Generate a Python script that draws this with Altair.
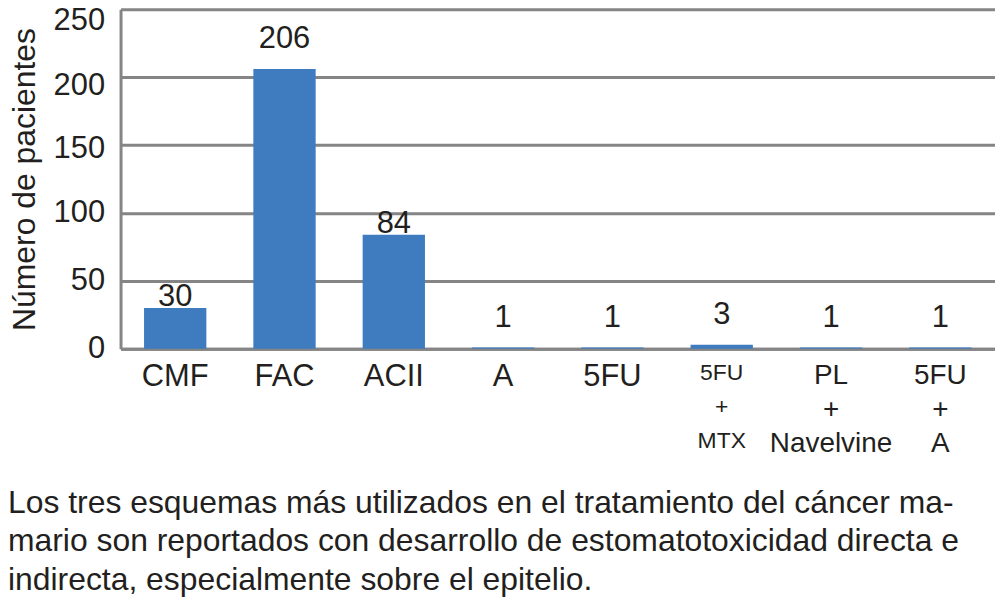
import altair as alt
import pandas as pd

# ---- data ----
categories = ["CMF", "FAC", "ACII", "A", "5FU", "5FU|+|MTX", "PL|+|Navelvine", "5FU|+|A"]
patients = [30, 206, 84, 1, 1, 3, 1, 1]
y_ticks = [0, 50, 100, 150, 200, 250]
caption_lines = [
    "Los tres esquemas más utilizados en el tratamiento del cáncer ma-",
    "mario son reportados con desarrollo de estomatotoxicidad directa e",
    "indirecta, especialmente sobre el epitelio.",
]
y_title = "Número de pacientes"

df = pd.DataFrame({"cat": categories, "n": patients})

# ---- style ----
BLUE = "#3F7CBF"
GRAY = "#858585"
INK = "#231F20"
FONT = "Liberation Sans"
W, H = 878, 341

y_scale = alt.Scale(domain=[0, 250], nice=False)
x_scale = alt.Scale(paddingInner=0.43, paddingOuter=0.215)

x_enc = alt.X(
    "cat:N",
    sort=categories,
    scale=x_scale,
    axis=alt.Axis(
        title=None,
        labelExpr="split(datum.label, '|')",
        labelFontSize={
            "condition": [
                {"test": "datum.value == '5FU|+|MTX'", "value": 23},
                {"test": "indexof(datum.value, '|') >= 0", "value": 28},
            ],
            "value": 31,
        },
        labelLineHeight=34,
        labelAngle=0,
        labelPadding=13,
        labelColor=INK,
        labelFont=FONT,
        ticks=False,
        domainColor=GRAY,
        domainWidth=3,
    ),
)
y_enc = alt.Y(
    "n:Q",
    scale=y_scale,
    axis=alt.Axis(
        values=y_ticks,
        title=y_title,
        titleFontSize=32,
        titleFontWeight="normal",
        titleFont=FONT,
        titleColor=INK,
        titlePadding=12,
        labelFontSize=31,
        labelFont=FONT,
        labelColor=INK,
        labelPadding=16,
        labelOffset={
            "condition": [
                {"test": "datum.value == 250", "value": 11},
                {"test": "datum.value == 200", "value": 8},
                {"test": "datum.value == 150", "value": 4},
            ],
            "value": 0,
        },
        ticks=False,
        grid=True,
        gridColor=GRAY,
        gridWidth=3,
        domainColor=GRAY,
        domainWidth=3,
    ),
)

base = alt.Chart(df)
bars = base.mark_bar(color=BLUE).encode(x=x_enc, y=y_enc)

x_plain = alt.X("cat:N", sort=categories, scale=x_scale)
y_plain = alt.Y("n:Q", scale=y_scale)

lab_hi = base.transform_filter("datum.n >= 100 || datum.n < 10").mark_text(
    baseline="alphabetic", dy=-21, fontSize=31, font=FONT, color=INK
).encode(x=x_plain, y=y_plain, text="n:Q")
lab_lo = base.transform_filter("datum.n >= 10 && datum.n < 100").mark_text(
    baseline="alphabetic", dy=-2, fontSize=31, font=FONT, color=INK
).encode(x=x_plain, y=y_plain, text="n:Q")

caption = alt.Chart(pd.DataFrame({"t": ["\n".join(caption_lines)]})).mark_text(
    align="left", baseline="alphabetic", fontSize=32, font=FONT, color=INK,
    lineBreak="\n", lineHeight=38.5,
).encode(x=alt.value(-113), y=alt.value(506), text="t:N")

chart = (
    alt.layer(bars, lab_hi, lab_lo, caption)
    .properties(
        width=W, height=H,
        autosize=alt.AutoSizeParams(type="none"),
        padding={"left": 113, "top": 0, "right": 0, "bottom": 250},
    )
    .configure_view(stroke=None)
    .configure(background="white")
)

chart.save("out.html", embed_options={"renderer": "svg", "actions": False})
